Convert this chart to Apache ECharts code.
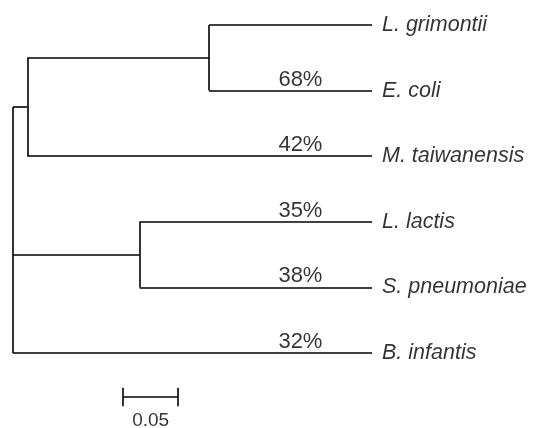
<!DOCTYPE html>
<html>
<head>
<meta charset="utf-8">
<script src="https://cdn.jsdelivr.net/npm/echarts@6/dist/echarts.min.js"></script>
<style>html,body{margin:0;padding:0;background:#fff}#c{width:536px;height:428px}</style>
</head>
<body>
<div id="c"></div>
<script>
// Tree data
const nodes = ['root', 'n1', 'n2', 'n3', 'L. grimontii', 'E. coli', 'M. taiwanensis', 'L. lactis', 'S. pneumoniae', 'B. infantis'];
const parents = [null, 'root', 'n1', 'root', 'n2', 'n2', 'n1', 'n3', 'n3', 'root'];
const branchLengths = [0, 0.013, 0.165, 0.115, 0.148, 0.148, 0.313, 0.211, 0.211, 0.326];
const leaves = ['L. grimontii', 'E. coli', 'M. taiwanensis', 'L. lactis', 'S. pneumoniae', 'B. infantis'];
const bootstrap = [null, 68, 42, 35, 38, 32];
const bootstrapX = 0.261;
const scaleStart = 0.1;
const scaleLength = 0.05;
const scaleLabel = '0.05';
const scaleRow = 5.67;
const scaleTick = 0.14;
const scaleLabelRow = 6.03;

// compute layout from tree
const idx = {};
nodes.forEach((n, i) => idx[n] = i);
const depth = {};
function getDepth(n) {
  if (depth[n] !== undefined) return depth[n];
  const i = idx[n];
  const p = parents[i];
  depth[n] = (p ? getDepth(p) : 0) + branchLengths[i];
  return depth[n];
}
nodes.forEach(getDepth);
const children = {};
nodes.forEach((n, i) => { const p = parents[i]; if (p) (children[p] = children[p] || []).push(n); });
const yPos = {};
function getY(n) {
  if (yPos[n] !== undefined) return yPos[n];
  if (leaves.indexOf(n) >= 0) { yPos[n] = leaves.indexOf(n); return yPos[n]; }
  const ys = children[n].map(getY);
  yPos[n] = (Math.min(...ys) + Math.max(...ys)) / 2;
  return yPos[n];
}
nodes.forEach(getY);
const maxDepth = Math.max(...leaves.map(l => depth[l]));

const segs = [];
nodes.forEach((n, i) => {
  const p = parents[i];
  if (p) segs.push({ coords: [[depth[p], yPos[n]], [depth[n], yPos[n]]] });
  if (children[n]) {
    const ys = children[n].map(c => yPos[c]);
    segs.push({ coords: [[depth[n], Math.min(...ys)], [depth[n], Math.max(...ys)]] });
  }
});
// scale bar
const scaleSegs = [
  { coords: [[scaleStart, scaleRow], [scaleStart + scaleLength, scaleRow]] },
  { coords: [[scaleStart, scaleRow - scaleTick], [scaleStart, scaleRow + scaleTick]] },
  { coords: [[scaleStart + scaleLength, scaleRow - scaleTick], [scaleStart + scaleLength, scaleRow + scaleTick]] }
];

const font = '"Liberation Sans", Arial, sans-serif';
const chart = echarts.init(document.getElementById('c'), null, { renderer: 'canvas' });
chart.setOption({
  animation: false,
  backgroundColor: '#fff',
  grid: { left: 13, right: 164, top: 25, bottom: 75 },
  xAxis: { type: 'value', min: 0, max: maxDepth, show: false },
  yAxis: { type: 'value', min: 0, max: leaves.length - 1, inverse: true, show: false },
  series: [
    {
      type: 'lines', coordinateSystem: 'cartesian2d', clip: false, silent: true,
      lineStyle: { color: '#000', width: 1.6, opacity: 1 },
      data: segs.concat(scaleSegs)
    },
    {
      type: 'scatter', clip: false, symbolSize: 0, silent: true,
      data: leaves.map((l, i) => ({ value: [depth[l], i], name: l })),
      label: { show: true, position: 'right', distance: 10, formatter: p => p.name,
        fontFamily: font, fontStyle: 'italic', fontSize: 21.5, color: '#000' }
    },
    {
      type: 'scatter', clip: false, symbolSize: 0, silent: true,
      data: bootstrap.map((b, i) => b === null ? null : ({ value: [bootstrapX, i], name: b + '%' })).filter(d => d),
      label: { show: true, position: 'top', distance: 0, formatter: p => p.name,
        fontFamily: font, fontSize: 22, color: '#000' }
    },
    {
      type: 'scatter', clip: false, symbolSize: 0, silent: true,
      data: [{ value: [scaleStart + scaleLength / 2, scaleLabelRow], name: scaleLabel }],
      label: { show: true, position: 'inside', formatter: p => p.name,
        fontFamily: font, fontSize: 19, color: '#000' }
    }
  ]
});
</script>
</body>
</html>
